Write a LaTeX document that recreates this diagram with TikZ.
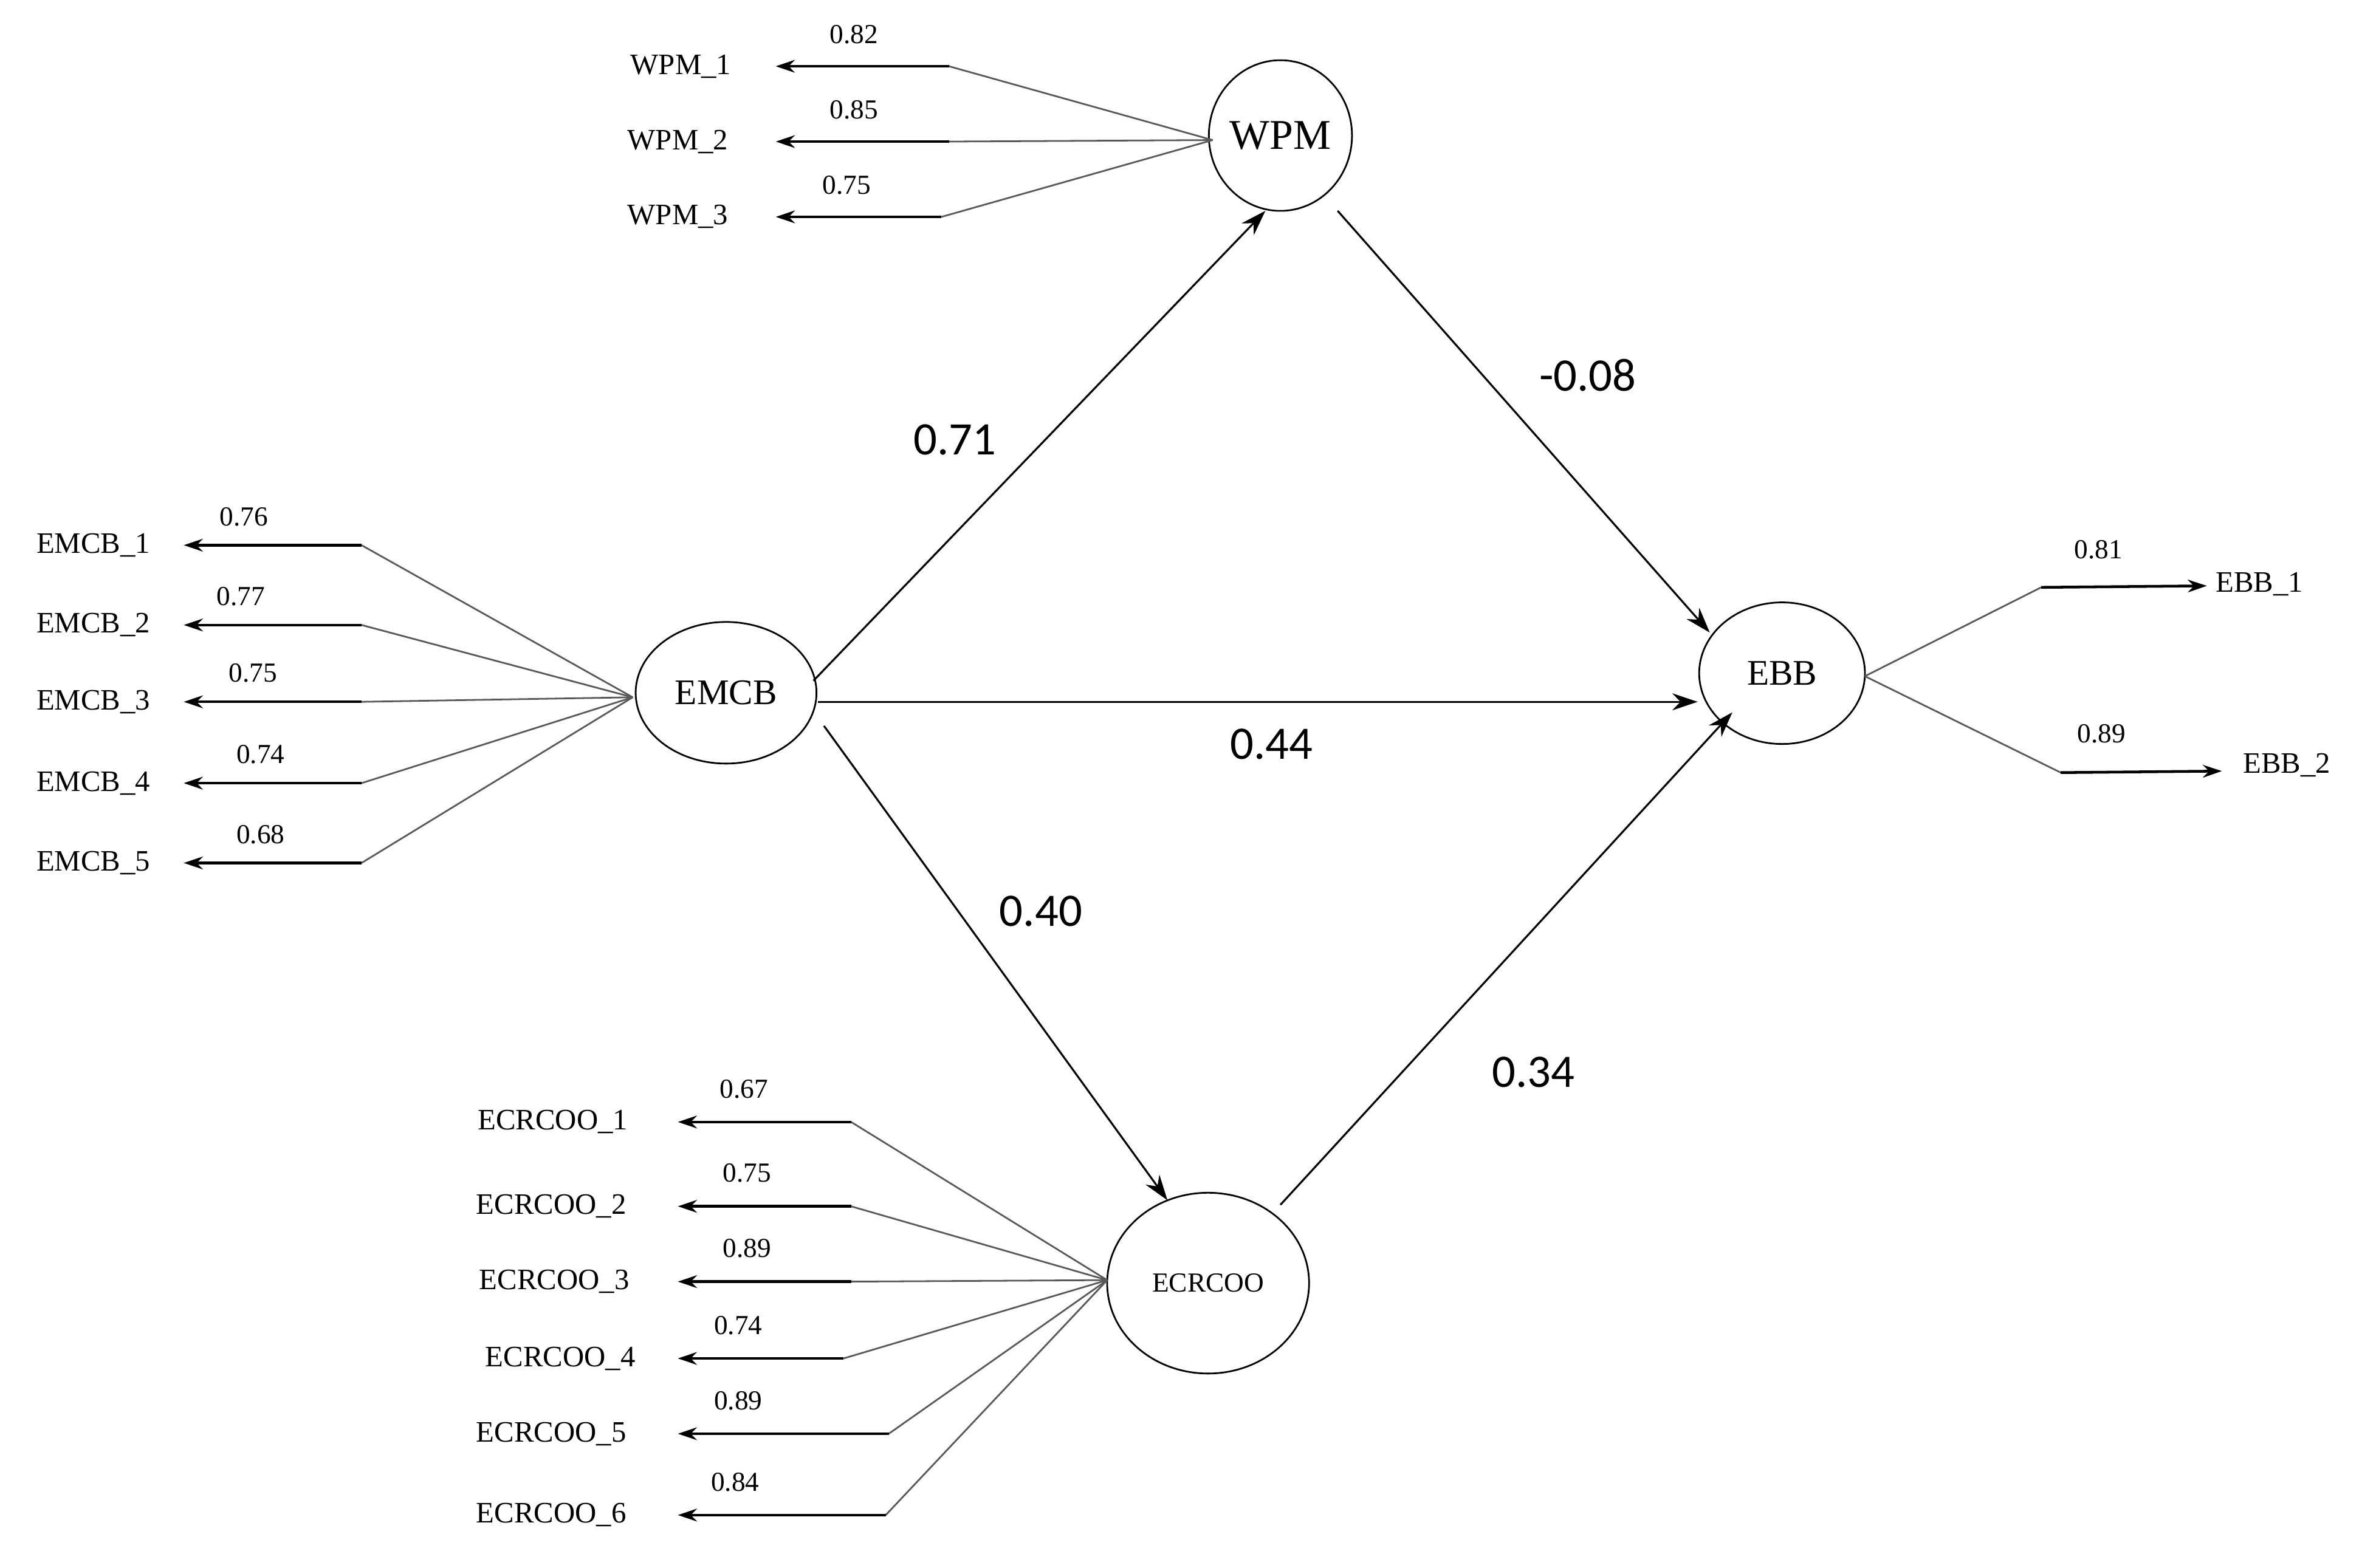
\documentclass[tikz,border=0pt]{standalone}
\usepackage{fontspec}
\setmainfont{Liberation Serif}
\newfontfamily\calfnt{Carlito}
\usetikzlibrary{arrows.meta,shapes.geometric}
\begin{document}
\begin{tikzpicture}[x=0.025cm,y=-0.025cm,
  lat/.style={draw,ellipse,line width=0.8pt,inner sep=0pt},
  ind/.style={font=\fontsize{14}{14}\selectfont,inner sep=1pt},
  val/.style={font=\fontsize{13}{13}\selectfont},
  big/.style={font=\calfnt\fontsize{22}{22}\selectfont},
  ld/.style={draw=gray!70!black,line width=0.8pt},
  la/.style={-{Stealth[length=9pt,width=6pt]},line width=1.3pt},
  sa/.style={-{Stealth[length=12pt,width=8pt]},line width=0.9pt}]
\useasboundingbox (0,0) rectangle (1568,1041);
\node[lat,minimum width=2.25cm,minimum height=2.5cm,font=\fontsize{20}{20}\selectfont] (wpm) at (850,90) {WPM};
\node[lat,minimum width=3cm,minimum height=2.35cm,font=\fontsize{17}{17}\selectfont] (emcb) at (482,460) {EMCB};
\node[lat,minimum width=2.75cm,minimum height=2.35cm,font=\fontsize{17}{17}\selectfont] (ebb) at (1183,447) {EBB};
\node[lat,minimum width=3.35cm,minimum height=3cm,font=\fontsize{13}{13}\selectfont] (ecr) at (802,852) {ECRCOO};
% WPM indicators
\coordinate (wL) at (805,93);
\foreach \n/\y/\bx/\tx/\v/\vx in {1/44/630/452/0.82/567,2/94/630/450/0.85/567,3/144/625/450/0.75/562}{
  \node[ind] (w\n) at (\tx,\y) {WPM\_\n};
  \coordinate (wb\n) at (\bx,\y);
  \draw[ld] (wL) -- (wb\n);
  \draw[la] (wb\n) -- (515,\y);
  \node[val] at (\vx,\y-21) {\v};
}
% EMCB indicators
\coordinate (eL) at (420,463);
\foreach \n/\y/\v/\vx in {1/362/0.76/162,2/415/0.77/160,3/466/0.75/168,4/520/0.74/173,5/573/0.68/173}{
  \node[ind] (m\n) at (62,\y) {EMCB\_\n};
  \coordinate (mb\n) at (240,\y);
  \draw[ld] (eL) -- (mb\n);
  \draw[la] (mb\n) -- (122,\y);
  \node[val] at (\vx,\y-19) {\v};
}
% ECRCOO indicators
\coordinate (cL) at (735,850);
\foreach \n/\y/\bx/\tx/\v/\vx in {1/745/565/367/0.67/494,2/801/565/366/0.75/496,3/851/565/368/0.89/496,4/902/560/372/0.74/490,5/952/590/366/0.89/490,6/1006/588/366/0.84/488}{
  \node[ind] (c\n) at (\tx,\y) {ECRCOO\_\n};
  \coordinate (cb\n) at (\bx,\y);
  \draw[ld] (cL) -- (cb\n);
  \draw[la] (cb\n) -- (450,\y);
  \node[val] at (\vx,\y-22) {\v};
}
% EBB indicators
\coordinate (bR) at (1238,449);
\node[ind] (b1) at (1500,388) {EBB\_1};
\node[ind] (b2) at (1518,508) {EBB\_2};
\coordinate (bb1) at (1355,390);
\coordinate (bb2) at (1368,513);
\draw[ld] (bR) -- (bb1); \draw[la] (bb1) -- (1465,389);
\draw[ld] (bR) -- (bb2); \draw[la] (bb2) -- (1475,512);
\node[val] at (1393,365) {0.81};
\node[val] at (1395,487) {0.89};
% structural
\coordinate (s1) at (540,452); \coordinate (e1) at (840,140);
\coordinate (s2) at (888,140); \coordinate (e2) at (1135,420);
\coordinate (s3) at (543,466); \coordinate (e3) at (1127,466);
\coordinate (s4) at (547,482); \coordinate (e4) at (775,797);
\coordinate (s5) at (850,800); \coordinate (e5) at (1150,473);
\draw[sa] (s1) -- (e1);
\draw[sa] (s2) -- (e2);
\draw[sa] (s3) -- (e3);
\draw[sa] (s4) -- (e4);
\draw[sa] (s5) -- (e5);
\node[big] at (634,292) {0.71};
\node[big] at (1054,249) {-0.08};
\node[big] at (844,494) {0.44};
\node[big] at (691,605) {0.40};
\node[big] at (1018,712) {0.34};
\end{tikzpicture}
\end{document}
